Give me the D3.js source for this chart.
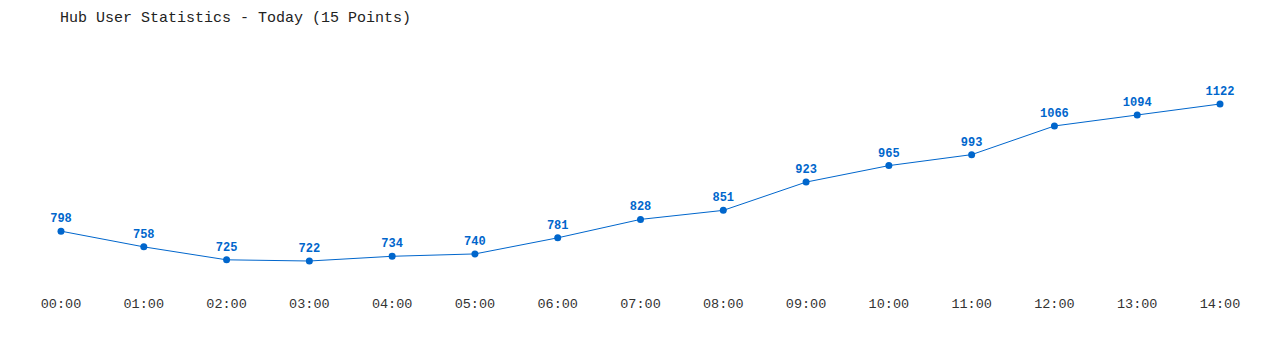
<!DOCTYPE html>
<html>
<head>
<meta charset="utf-8">
<script src="https://cdn.jsdelivr.net/npm/d3@7"></script>
<style>
  body { margin: 0; background: #fff; }
  text { font-family: "Liberation Mono", "DejaVu Sans Mono", monospace; }
</style>
</head>
<body>
<svg width="1280" height="350"></svg>
<script>
var hours = ["00:00","01:00","02:00","03:00","04:00","05:00","06:00","07:00","08:00","09:00","10:00","11:00","12:00","13:00","14:00"];
var users = [798, 758, 725, 722, 734, 740, 781, 828, 851, 923, 965, 993, 1066, 1094, 1122];

var svg = d3.select("svg");
var blue = "#0066cc";

var x = d3.scalePoint().domain(hours).range([61, 1220]);
var y = d3.scaleLinear().domain([d3.min(users), d3.max(users)]).range([261, 104]);

svg.append("text")
  .attr("x", 60).attr("y", 22)
  .attr("font-size", 15)
  .attr("fill", "#222")
  .text("Hub User Statistics - Today (15 Points)");

var pts = hours.map(function(h, i) { return {h: h, v: users[i]}; });

svg.append("path")
  .datum(pts)
  .attr("fill", "none")
  .attr("stroke", blue)
  .attr("stroke-width", 1)
  .attr("d", d3.line().x(function(d) { return x(d.h); }).y(function(d) { return y(d.v); }));

svg.append("g").selectAll("circle")
  .data(pts).enter().append("circle")
  .attr("cx", function(d) { return x(d.h); })
  .attr("cy", function(d) { return y(d.v); })
  .attr("r", 3.5)
  .attr("fill", blue);

svg.append("g").selectAll("text")
  .data(pts).enter().append("text")
  .attr("x", function(d) { return x(d.h); })
  .attr("y", function(d) { return y(d.v) - 9; })
  .attr("text-anchor", "middle")
  .attr("font-size", 12)
  .attr("font-weight", "bold")
  .attr("fill", blue)
  .text(function(d) { return d.v; });

svg.append("g").selectAll("text")
  .data(hours).enter().append("text")
  .attr("x", function(d) { return x(d); })
  .attr("y", 308)
  .attr("text-anchor", "middle")
  .attr("font-size", 13.5)
  .attr("fill", "#333")
  .text(function(d) { return d; });
</script>
</body>
</html>
